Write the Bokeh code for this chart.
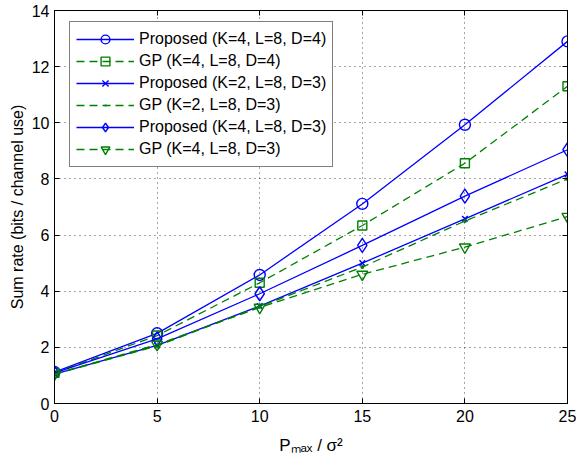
from bokeh.plotting import figure
from bokeh.models import (Range1d, LinearAxis, Legend, LegendItem,
                          FixedTicker)
from bokeh.embed import file_html
from bokeh.resources import INLINE

# ---------------- data ----------------
p_max = [0, 5, 10, 15, 20, 25]
prop_k4_d4 = [1.12, 2.50, 4.58, 7.11, 9.93, 12.90]
gp_k4_d4 = [1.09, 2.42, 4.30, 6.34, 8.56, 11.30]
prop_k2_d3 = [1.05, 2.07, 3.47, 5.00, 6.58, 8.16]
gp_k2_d3 = [1.04, 2.05, 3.45, 4.86, 6.50, 8.00]
prop_k4_d3 = [1.09, 2.30, 3.91, 5.63, 7.39, 9.04]
gp_k4_d3 = [1.05, 2.10, 3.42, 4.60, 5.57, 6.66]

series = [
    ("Proposed (K=4, L=8, D=4)", prop_k4_d4, "#0000ff", "solid", "circle", 11),
    ("GP (K=4, L=8, D=4)", gp_k4_d4, "#008000", "8 5", "square", 9),
    ("Proposed (K=2, L=8, D=3)", prop_k2_d3, "#0000ff", "solid", "x", 8),
    ("GP (K=2, L=8, D=3)", gp_k2_d3, "#008000", "8 5", "dot", 16),
    ("Proposed (K=4, L=8, D=3)", prop_k4_d3, "#0000ff", "solid", "diamond", 14),
    ("GP (K=4, L=8, D=3)", gp_k4_d3, "#008000", "8 5", "inverted_triangle", 11),
]

x_ticks = [0, 5, 10, 15, 20, 25]
y_ticks = [0, 2, 4, 6, 8, 10, 12, 14]
x_label = "Pₘₐₓ / σ²"
y_label = "Sum rate (bits / channel use)"

FONT = "Liberation Sans"
FS = "16px"

p = figure(frame_width=513, frame_height=393,
           x_range=Range1d(0, 25), y_range=Range1d(0, 14),
           output_backend="svg", toolbar_location=None,
           min_border_left=54, min_border_right=9, min_border_top=10,
           min_border_bottom=56)
p.background_fill_color = "white"
p.border_fill_color = "white"
p.outline_line_color = "black"
p.outline_line_width = 1

for ax in (p.xaxis[0], p.yaxis[0]):
    ax.major_tick_in = 5
    ax.major_tick_out = 0
    ax.minor_tick_in = 0
    ax.minor_tick_out = 0
    ax.major_label_text_font = FONT
    ax.major_label_text_font_size = FS
    ax.major_label_text_color = "black"
    ax.axis_line_color = "black"
    ax.major_tick_line_color = "black"
    ax.axis_label_text_font = FONT
    ax.axis_label_text_font_size = FS
    ax.axis_label_text_font_style = "normal"
    ax.axis_label_text_color = "black"
p.xaxis[0].ticker = FixedTicker(ticks=x_ticks)
p.yaxis[0].ticker = FixedTicker(ticks=y_ticks)
p.xaxis[0].major_label_standoff = 6
p.yaxis[0].major_label_standoff = 5
p.yaxis[0].axis_label = y_label
p.yaxis[0].axis_label_standoff = 3
p.xaxis[0].axis_label = x_label
p.xaxis[0].axis_label_text_font_size = "17px"
p.xaxis[0].axis_label_standoff = 11

# top and right axes: ticks only
for loc, ticks in (("right", y_ticks), ("above", x_ticks)):
    ax = LinearAxis(ticker=FixedTicker(ticks=ticks))
    ax.major_tick_in = 5
    ax.major_tick_out = 0
    ax.minor_tick_in = 0
    ax.minor_tick_out = 0
    ax.major_label_text_font_size = "0px"
    ax.major_label_standoff = 0
    ax.major_label_text_alpha = 0
    ax.axis_line_color = "black"
    p.add_layout(ax, loc)

for g in (p.xgrid[0], p.ygrid[0]):
    g.grid_line_color = "black"
    g.grid_line_alpha = 0.7
    g.grid_line_dash = "1 4"
    g.grid_line_width = 1
p.xgrid[0].ticker = FixedTicker(ticks=x_ticks)
p.ygrid[0].ticker = FixedTicker(ticks=y_ticks)

items = []
for label, ys, color, dash, marker, size in series:
    lr = p.line(p_max, ys, line_color=color, line_width=1.3, line_dash=dash)
    if marker == "dot":
        sr = p.scatter(p_max, ys, marker="dot", size=size, line_color=color,
                       fill_color=color, line_width=1.6)
    else:
        sr = p.scatter(p_max, ys, marker=marker, size=size, line_color=color,
                       line_width=1.4, fill_color=None)
    items.append(LegendItem(label=label, renderers=[lr, sr]))

legend = Legend(items=items, location=(15, 236), margin=0, padding=6,
                spacing=0, glyph_width=58, glyph_height=22, label_height=22,
                label_standoff=5, label_text_font=FONT,
                label_text_font_size=FS, label_text_color="black",
                border_line_color="black", border_line_width=1,
                background_fill_color="white", background_fill_alpha=1)
p.add_layout(legend, "center")

open("out.html", "w").write(file_html(p, INLINE))
